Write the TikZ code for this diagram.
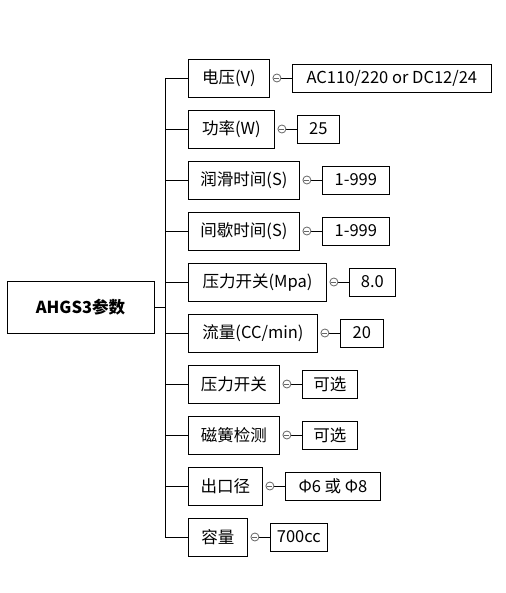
\documentclass[tikz,border=0pt]{standalone}
\usepackage{fontspec}
\setmainfont{Noto Sans CJK SC}
\usetikzlibrary{calc}
\tikzset{
  box/.style={draw, line width=0.9pt, inner sep=0pt, align=center, font=\fontsize{16.5}{19}\selectfont},
  childbox/.style={box, anchor=west, minimum height=38pt},
  valbox/.style={box, anchor=west, minimum height=28pt},
  rootbox/.style={box, minimum width=147pt, minimum height=52pt, font=\fontsize{16.5}{19}\selectfont\bfseries},
  knob/.style={draw=black!60, line width=0.8pt, fill=white, circle, inner sep=0pt, minimum size=8pt},
  conn/.style={line width=0.9pt},
}
\newcommand\paramrow[6]{%
  \node[childbox, minimum width=#3pt] (b#1) at (188,#2) {#4};
  \coordinate (c#1) at ($(b#1.east)+(7,0)$);
  \node[valbox, minimum width=#5pt] (v#1) at ($(c#1)+(15,0)$) {#6};
  \draw[conn] (c#1) -- (v#1.west);
  \node[knob] (k#1) at (c#1) {};
  \draw[line width=0.6pt, black!60] ($(k#1.center)+(-2.5,0)$) -- ($(k#1.center)+(2.5,0)$);
  \draw[conn] (sp |- b#1.west) -- (b#1.west);
}
\begin{document}
\begin{tikzpicture}[x=1pt,y=-1pt]
\useasboundingbox (0,0) rectangle (505,593);
\node[rootbox] (root) at (80.5,307) {AHGS3参数};
\coordinate (sp) at (165,307);
\draw[conn] (root.east) -- (sp);
\paramrow{1}{78}{81}{电压(V)}{199}{AC110/220 or DC12/24}
\paramrow{2}{129}{86}{功率(W)}{42}{25}
\paramrow{3}{180}{111}{润滑时间(S)}{67}{1-999}
\paramrow{4}{231}{111}{间歇时间(S)}{67}{1-999}
\paramrow{5}{282}{138}{压力开关(Mpa)}{46}{8.0}
\paramrow{6}{333}{129}{流量(CC/min)}{43}{20}
\paramrow{7}{384}{91}{压力开关}{55}{可选}
\paramrow{8}{435}{91}{磁簧检测}{55}{可选}
\paramrow{9}{486}{74}{出口径}{95}{Φ6 或 Φ8}
\paramrow{10}{537}{59}{容量}{57}{700cc}
\draw[conn] (sp |- b1.west) -- (sp |- b10.west);
\end{tikzpicture}
\end{document}
